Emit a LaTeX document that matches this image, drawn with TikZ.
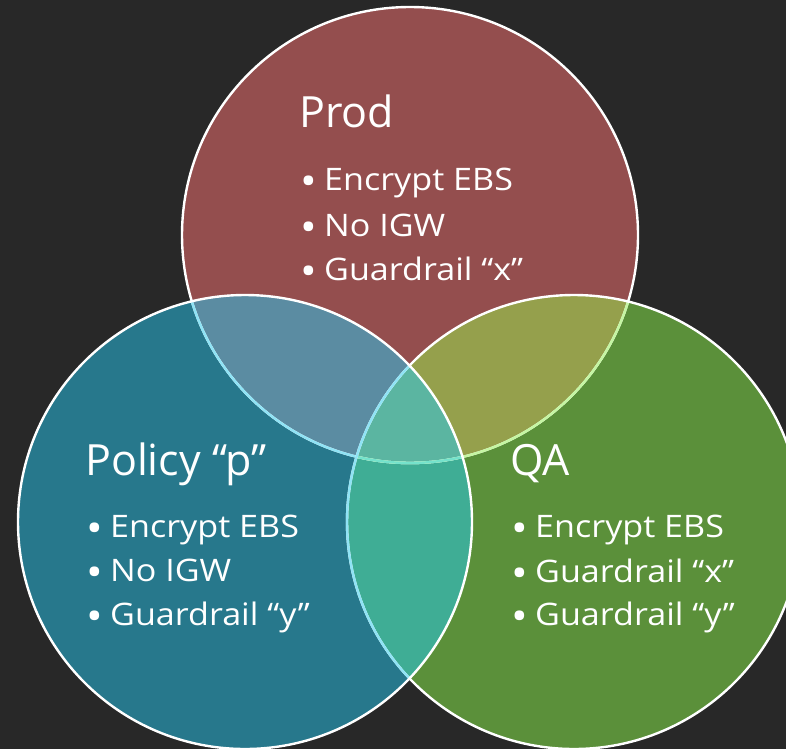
\documentclass[tikz,border=0pt]{standalone}
\usepackage{fontspec}
\usepackage{graphicx}
\setmainfont{Open Sans}
\newfontfamily\itemfont[FakeStretch=1.1]{Open Sans}
\newcommand\blt{\makebox[24pt][l]{\raisebox{-5pt}{\scalebox{1.3}{•}}}}
\begin{document}
\begin{tikzpicture}[x=1pt,y=-1pt,
  title/.style={anchor=base west,inner sep=0pt,text=white,font=\fontsize{43}{50}\selectfont},
  item/.style={anchor=base west,inner sep=0pt,text=white,font=\itemfont\fontsize{31}{38}\selectfont},
  edge/.style={line width=2.4pt}]
\definecolor{bgc}{HTML}{282828}
\definecolor{prodc}{HTML}{944E4E}
\definecolor{polc}{HTML}{27788C}
\definecolor{qac}{HTML}{5B903A}
\definecolor{prodpol}{HTML}{5B8CA2}
\definecolor{prodqa}{HTML}{95A04C}
\definecolor{polqa}{HTML}{3FAD95}
\definecolor{allc}{HTML}{5BB5A1}
\definecolor{tintpol}{HTML}{8FE3F5}
\definecolor{tintqa}{HTML}{C5F6A2}
\definecolor{tintboth}{HTML}{75E2CC}
\useasboundingbox (0,0) rectangle (786,749);
\fill[bgc] (0,0) rectangle (786,749);
\coordinate (cprod) at (410,235);
\coordinate (cpol) at (245,522);
\coordinate (cqa) at (574,522);
\def\rprod{228pt}
\def\rpol{227pt}
\def\rqa{227pt}
% base fills
\fill[prodc] (cprod) circle[radius=\rprod];
\fill[qac] (cqa) circle[radius=\rqa];
\fill[polc] (cpol) circle[radius=\rpol];
% pairwise overlaps
\begin{scope}
  \clip (cprod) circle[radius=\rprod];
  \fill[prodpol] (cpol) circle[radius=\rpol];
  \fill[prodqa] (cqa) circle[radius=\rqa];
\end{scope}
\begin{scope}
  \clip (cpol) circle[radius=\rpol];
  \fill[polqa] (cqa) circle[radius=\rqa];
  \clip (cprod) circle[radius=\rprod];
  \fill[allc] (cqa) circle[radius=\rqa];
\end{scope}
% outlines: Prod under QA under Policy
\draw[edge,white] (cprod) circle[radius=\rprod];
\begin{scope}
  \clip (cpol) circle[radius=\rpol];
  \draw[edge,tintpol] (cprod) circle[radius=\rprod];
\end{scope}
\begin{scope}
  \clip (cqa) circle[radius=\rqa];
  \draw[edge,tintqa] (cprod) circle[radius=\rprod];
  \clip (cpol) circle[radius=\rpol];
  \draw[edge,tintboth] (cprod) circle[radius=\rprod];
\end{scope}
\draw[edge,white] (cqa) circle[radius=\rqa];
\begin{scope}
  \clip (cpol) circle[radius=\rpol];
  \draw[edge,tintpol] (cqa) circle[radius=\rqa];
\end{scope}
\draw[edge,white] (cpol) circle[radius=\rpol];
% labels
\node[title] (tprod) at (299,128) {Prod};
\node[item] (prod1) at (300,190) {\blt Encrypt EBS};
\node[item] (prod2) at (300,236) {\blt No IGW};
\node[item] (prod3) at (300,280) {\blt Guardrail “x”};
\node[title] (tpol) at (85,475) {Policy “p”};
\node[item] (pol1) at (86,537) {\blt Encrypt EBS};
\node[item] (pol2) at (86,581) {\blt No IGW};
\node[item] (pol3) at (86,625) {\blt Guardrail “y”};
\node[title] (tqa) at (510,475) {QA};
\node[item] (qa1) at (511,537) {\blt Encrypt EBS};
\node[item] (qa2) at (511,582) {\blt Guardrail “x”};
\node[item] (qa3) at (511,625) {\blt Guardrail “y”};
\end{tikzpicture}
\end{document}
